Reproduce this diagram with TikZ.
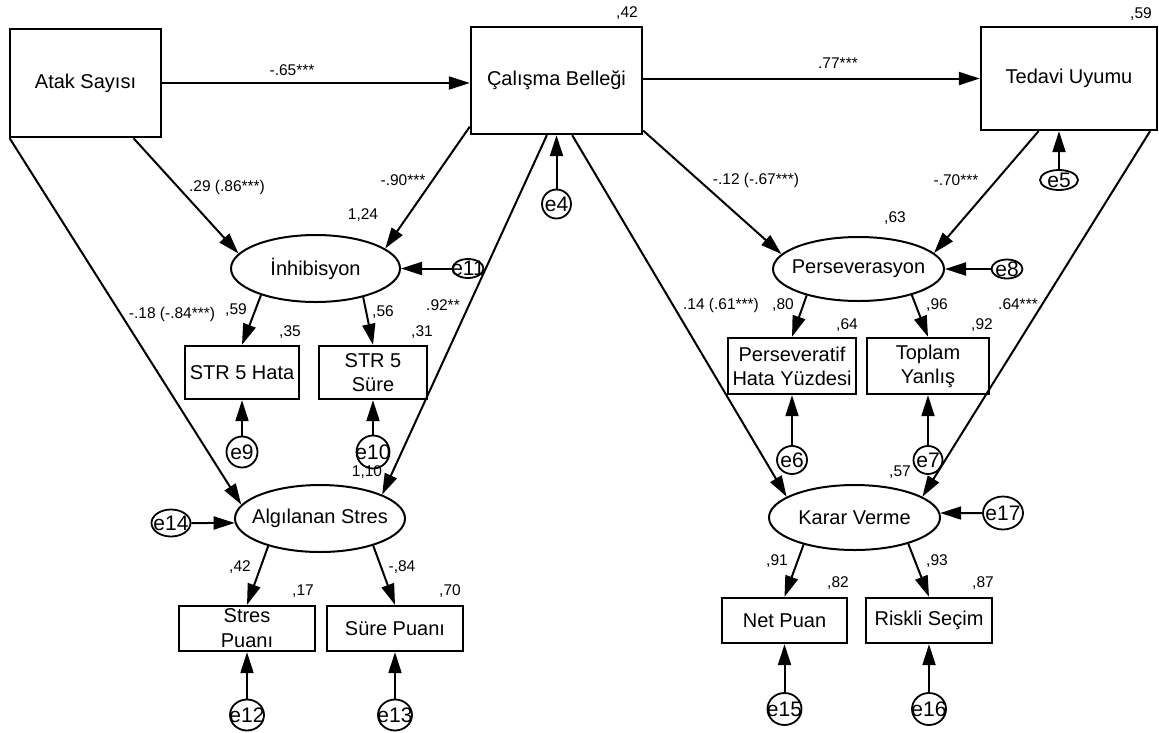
\documentclass[tikz,border=0pt]{standalone}
\usepackage{fontspec}
\setmainfont{Liberation Sans}
\usetikzlibrary{arrows.meta,shapes.geometric,calc}
\newcommand\nodefont{\fontsize{20}{24}\selectfont}
\newcommand\errfont{\fontsize{21}{23}\selectfont}
\newcommand\numfont{\fontsize{15.5}{17}\selectfont}
\begin{document}
\begin{tikzpicture}[x=1pt,y=-1pt,
  box/.style={draw, line width=2.3pt, rectangle, inner sep=0pt, align=center, font=\nodefont},
  lat/.style={draw, line width=2pt, ellipse, inner sep=0pt, label={[font=\nodefont, inner sep=0pt]center:#1}},
  err/.style={draw, line width=1.8pt, ellipse, inner sep=0pt, label={[font=\errfont, inner sep=0pt]center:#1}},
  conn/.style={line width=2pt, -{Triangle[length=21pt,width=13pt]}},
  lbl/.style={font=\numfont, inner sep=0pt},
]
\fill[white] (0,0) rectangle (1159,732);
\useasboundingbox (0,0) rectangle (1159,732);

% observed / latent nodes
\node[box, minimum width=151pt, minimum height=108pt] (atak) at (85.5,83) {Atak Sayısı};
\node[box, minimum width=171pt, minimum height=107pt] (cal) at (556.5,80.5) {Çalışma Belleği};
\node[box, minimum width=176pt, minimum height=103pt] (ted) at (1069,78.5) {Tedavi Uyumu};

\node[lat={İnhibisyon}, minimum width=169pt, minimum height=67pt] (inh) at (315.5,268.5) {};
\node[box, minimum width=114pt, minimum height=53pt] (s5h) at (242,372.5) {STR 5 Hata};
\node[box, minimum width=108pt, minimum height=53pt] (s5s) at (373,372.5) {STR 5\\Süre};
\node[lat={Algılanan Stres}, minimum width=170pt, minimum height=67pt] (alg) at (320,518.5) {};
\node[box, minimum width=136pt, minimum height=45pt] (stp) at (247,628.5) {Stres\\[1pt]Puanı};
\node[box, minimum width=136pt, minimum height=45pt] (sur) at (395,628.5) {Süre Puanı};

\node[lat={Perseverasyon}, minimum width=171pt, minimum height=64pt] (per) at (858.5,269) {};
\node[box, minimum width=128pt, minimum height=56pt] (psf) at (792,366) {Perseveratif\\Hata Yüzdesi};
\node[box, minimum width=122pt, minimum height=56pt] (tpl) at (928,366) {Toplam\\Yanlış};
\node[lat={Karar Verme}, minimum width=171pt, minimum height=65pt] (kar) at (854.5,517.5) {};
\node[box, minimum width=125pt, minimum height=45pt] (net) at (784.5,620.5) {Net Puan};
\node[box, minimum width=126pt, minimum height=45pt] (ris) at (929,620.5) {Riskli Seçim};

% error terms
\node[err={e4}, minimum width=29pt, minimum height=29pt] (e4) at (556.5,204) {};
\node[err={e5}, minimum width=38pt, minimum height=20pt] (e5) at (1059,180) {};
\node[err={e11}, minimum width=31pt, minimum height=19pt] (e11) at (468,268.5) {};
\node[err={e8}, minimum width=31pt, minimum height=19pt] (e8) at (1007,269) {};
\node[err={e9}, minimum width=31pt, minimum height=31pt] (e9) at (242,452) {};
\node[err={e10}, minimum width=33pt, minimum height=33pt] (e10) at (373,452) {};
\node[err={e14}, minimum width=39pt, minimum height=27pt] (e14) at (171,523) {};
\node[err={e12}, minimum width=34pt, minimum height=31pt] (e12) at (247,715) {};
\node[err={e13}, minimum width=34pt, minimum height=31pt] (e13) at (395,715) {};
\node[err={e6}, minimum width=30pt, minimum height=28pt] (e6) at (792,460) {};
\node[err={e7}, minimum width=29pt, minimum height=28pt] (e7) at (928,460) {};
\node[err={e17}, minimum width=40pt, minimum height=33pt] (e17) at (1003,513) {};
\node[err={e15}, minimum width=34pt, minimum height=32pt] (e15) at (784.5,709) {};
\node[err={e16}, minimum width=34pt, minimum height=32pt] (e16) at (929,709) {};

% structural paths
\draw[conn] (atak.east) -- (atak.east -| cal.west);
\draw[conn] (cal.east |- ted.west) -- (ted.west);
\draw[conn] (atak.311) -- (inh.169);
\draw[conn] (atak.216.7) -- (alg.170);
\draw[conn] (cal.208.5) -- (inh.16);
\draw[conn] (cal.260) -- (alg.21.4);
\draw[conn] (cal.286) -- (kar.163);
\draw[conn] (cal.330) -- (per.169);
\draw[conn] (ted.240) -- (per.12);
\draw[conn] (ted.327) -- (kar.17);

% measurement paths
\draw[conn] (inh.206) -- (s5h.north);
\draw[conn] (inh.329) -- (s5s.north);
\draw[conn] (alg.208) -- (stp.north);
\draw[conn] (alg.333) -- (sur.north);
\draw[conn] (per.207) -- (psf.north);
\draw[conn] (per.334) -- (tpl.north);
\draw[conn] (kar.208) -- (net.north);
\draw[conn] (kar.334) -- (ris.north);

% error arrows
\draw[conn] (e4.north) -- (e4.north |- cal.south);
\draw[conn] (e5.north) -- (e5.north |- ted.south);
\draw[conn] (e11.west) -- (inh.east);
\draw[conn] (e8.west) -- (per.east);
\draw[conn] (e9.north) -- (s5h.south);
\draw[conn] (e10.north) -- (s5s.south);
\draw[conn] (e14.east) -- (alg.183);
\draw[conn] (e12.north) -- (stp.south);
\draw[conn] (e13.north) -- (sur.south);
\draw[conn] (e6.north) -- (psf.south);
\draw[conn] (e7.north) -- (tpl.south);
\draw[conn] (e17.west) -- (kar.3);
\draw[conn] (e15.north) -- (net.south);
\draw[conn] (e16.north) -- (ris.south);

% estimates
\node[lbl] (r1) at (627,13) {,42};
\node[lbl] (r2) at (1141,14) {,59};
\node[lbl] (p1) at (292,70) {-.65***};
\node[lbl] (p2) at (838,63) {.77***};
\node[lbl] (p3) at (227,187) {.29 (.86***)};
\node[lbl] (p4) at (403,180) {-.90***};
\node[lbl] (r3) at (363,215) {1,24};
\node[lbl] (p5) at (756,180) {-.12 (-.67***)};
\node[lbl] (p6) at (956,180) {-.70***};
\node[lbl] (r4) at (895,218) {,63};
\node[lbl] (p7) at (172,314) {-.18 (-.84***)};
\node[lbl] (m1) at (236,310) {,59};
\node[lbl] (r5) at (290,332) {,35};
\node[lbl] (m2) at (383,312) {,56};
\node[lbl] (r6) at (422,332) {,31};
\node[lbl] (p8) at (443,305) {.92**};
\node[lbl] (r7) at (367,472) {1,10};
\node[lbl] (m3) at (240,567) {,42};
\node[lbl] (m4) at (402,567) {-,84};
\node[lbl] (r8) at (303,591) {,17};
\node[lbl] (r9) at (450,591) {,70};
\node[lbl] (p9) at (721,305) {.14 (.61***)};
\node[lbl] (m5) at (783,305) {,80};
\node[lbl] (r10) at (847,325) {,64};
\node[lbl] (m6) at (937,305) {,96};
\node[lbl] (r11) at (982,325) {,92};
\node[lbl] (p10) at (1018,304) {.64***};
\node[lbl] (r12) at (900,472) {,57};
\node[lbl] (m7) at (777,561) {,91};
\node[lbl] (r13) at (838,583) {,82};
\node[lbl] (m8) at (937,561) {,93};
\node[lbl] (r14) at (983,583) {,87};
\end{tikzpicture}
\end{document}
